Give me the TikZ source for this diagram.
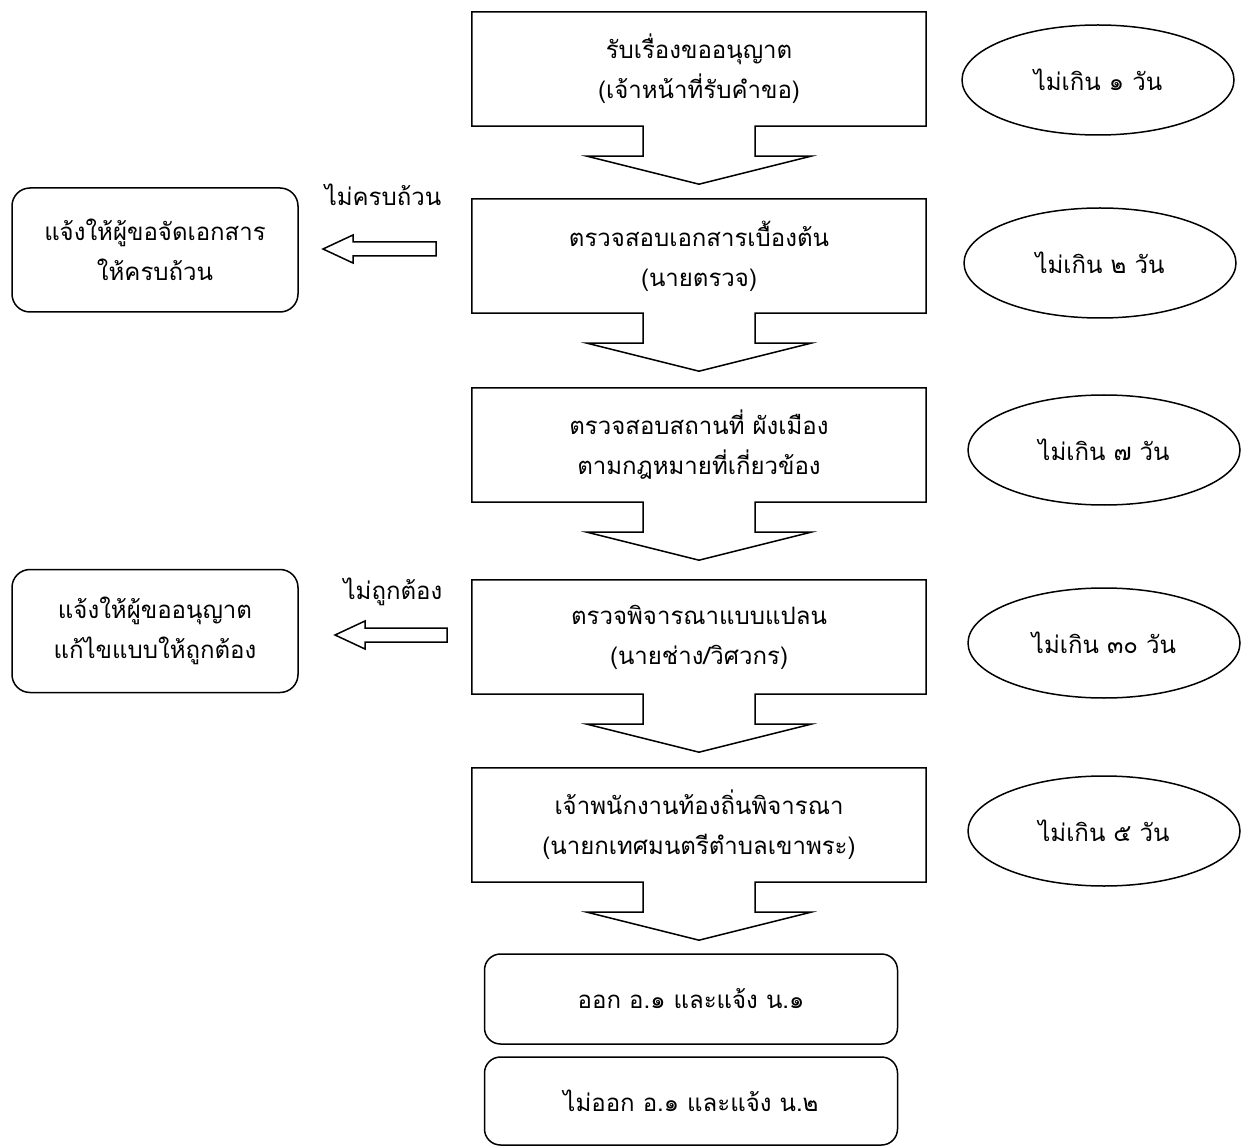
\documentclass[tikz,border=0pt]{standalone}
\usepackage{fontspec}
\usepackage{tikz}
\usetikzlibrary{shapes.geometric,calc}
\newfontfamily\thaifont[Script=Thai]{Loma}

% box with its own down arrow
\newcommand{\flowbox}[1]{%
  \draw[outline] (#1.north west) -- (#1.north east) -- (#1.south east)
    -- ($(#1.south)+(56,0)$) -- ++(0,30) -- ++(56,0) -- ($(#1.south)+(0,58)$)
    -- ++(-112,-28) -- ++(56,0) -- ++(0,-30) -- (#1.south west) -- cycle;}
% open arrow pointing left
\newcommand{\hollowarrow}[2]{%
  \draw[outline] ($(#1)+(0,-7)$) -- ($(#2)+(30,-7)$) -- ($(#2)+(30,-14)$) -- (#2)
    -- ($(#2)+(30,14)$) -- ($(#2)+(30,7)$) -- ($(#1)+(0,7)$) -- cycle;}

\begin{document}
\begin{tikzpicture}[x=1pt, y=-1pt,
  every node/.style={font={\thaifont\fontsize{24}{40}\selectfont}, align=center},
  outline/.style={draw=black, line width=1.5pt, line join=miter},
  stepbox/.style={minimum width=454pt, minimum height=114pt, inner sep=0pt},
  daybox/.style={ellipse, draw=black, line width=1.5pt, minimum width=272pt, minimum height=110pt, inner sep=0pt},
  notebox/.style={draw=black, line width=1.5pt, rounded corners=18pt, minimum width=286pt, minimum height=124pt, inner sep=0pt},
  resultbox/.style={draw=black, line width=1.5pt, rounded corners=16pt, minimum width=413pt, minimum height=90pt, inner sep=0pt}]
  \useasboundingbox (0,0) rectangle (1251,1147);

  % main steps
  \node[stepbox] (rcv) at (699,69) {รับเรื่องขออนุญาต\\(เจ้าหน้าที่รับคำขอ)};
  \node[stepbox] (chk) at (699,256) {ตรวจสอบเอกสารเบื้องต้น\\(นายตรวจ)};
  \node[stepbox] (site) at (699,445) {ตรวจสอบสถานที่ ผังเมือง\\ตามกฎหมายที่เกี่ยวข้อง};
  \node[stepbox] (plan) at (699,637) {ตรวจพิจารณาแบบแปลน\\(นายช่าง/วิศวกร)};
  \node[stepbox] (boss) at (699,825) {เจ้าพนักงานท้องถิ่นพิจารณา\\(นายกเทศมนตรีตำบลเขาพระ)};
  \flowbox{rcv}
  \flowbox{chk}
  \flowbox{site}
  \flowbox{plan}
  \flowbox{boss}

  % results
  \node[resultbox] (yes) at (691,999) {ออก อ.๑ และแจ้ง น.๑};
  \node[resultbox, minimum height=88pt] (no) at (691,1101) {ไม่ออก อ.๑ และแจ้ง น.๒};

  % time limits
  \node[daybox] (d1) at (1098,80) {ไม่เกิน ๑ วัน};
  \node[daybox] (d2) at (1100,263) {ไม่เกิน ๒ วัน};
  \node[daybox] (d3) at (1104,450) {ไม่เกิน ๗ วัน};
  \node[daybox] (d4) at (1104,643) {ไม่เกิน ๓๐ วัน};
  \node[daybox] (d5) at (1104,831) {ไม่เกิน ๕ วัน};

  % returns
  \node[notebox] (fix1) at (155,250) {แจ้งให้ผู้ขอจัดเอกสาร\\ให้ครบถ้วน};
  \node[notebox, minimum height=123pt] (fix2) at (155,631) {แจ้งให้ผู้ขออนุญาต\\แก้ไขแบบให้ถูกต้อง};
  \node (lack) at (383,195) {ไม่ครบถ้วน};
  \node (wrong) at (393,592) {ไม่ถูกต้อง};
  \coordinate (r1) at (436,249);
  \coordinate (r1tip) at (323,249);
  \coordinate (r2) at (447,635);
  \coordinate (r2tip) at (335,635);
  \hollowarrow{r1}{r1tip}
  \hollowarrow{r2}{r2tip}
\end{tikzpicture}
\end{document}
